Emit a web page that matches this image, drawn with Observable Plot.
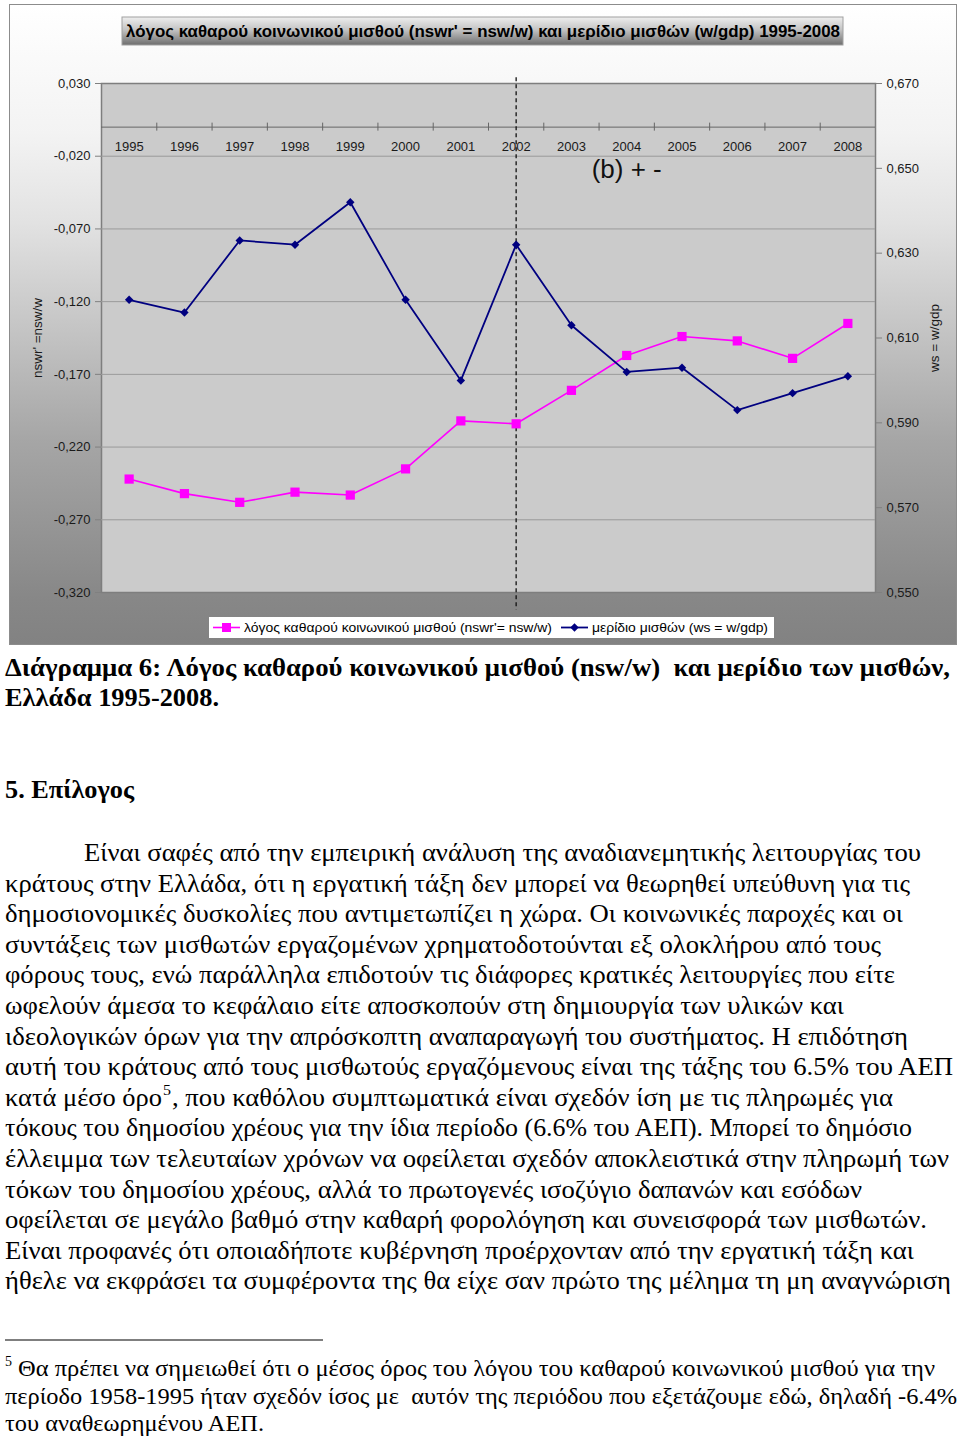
<!DOCTYPE html>
<html><head><meta charset="utf-8">
<script src="https://cdn.jsdelivr.net/npm/d3@7"></script>
<script src="https://cdn.jsdelivr.net/npm/@observablehq/plot@0.6"></script>
<style>
html,body{margin:0;padding:0;background:#fff;}
#page{position:relative;width:960px;height:1438px;overflow:hidden;background:#fff;}
#chartbg{position:absolute;left:9px;top:4px;width:946px;height:639px;border:1px solid #8c8c8c;
  background:linear-gradient(to bottom,#ffffff 0%,#f3f3f3 20%,#e2e2e2 34%,#a6a6a6 68%,#878787 93%,#828282 100%);}
#plot{position:absolute;left:0;top:0;}
#overlay{position:absolute;left:0;top:0;}
#overlay text{white-space:pre;}
</style></head>
<body>
<div id="page"><div id="chartbg"></div><div id="plot"></div><svg id="overlay" width="960" height="1438"></svg></div>
<script>
// ---------- data ----------
const years = [1995,1996,1997,1998,1999,2000,2001,2002,2003,2004,2005,2006,2007,2008];
const nswr = [-0.242,-0.252,-0.258,-0.251,-0.253,-0.235,-0.202,-0.204,-0.181,-0.157,-0.144,-0.147,-0.159,-0.135];
const ws   = [0.619,0.616,0.633,0.632,0.642,0.619,0.600,0.632,0.613,0.602,0.603,0.593,0.597,0.601];
const leftTicks  = [0.030,-0.020,-0.070,-0.120,-0.170,-0.220,-0.270,-0.320];
const rightTicks = [0.670,0.650,0.630,0.610,0.590,0.570,0.550];
const leftDomain  = [-0.320, 0.030];
const rightDomain = [0.550, 0.670];
const breakYear = 2002;
const breakSpan = [0.034, -0.332];
const annotation = [{year: 2004, value: -0.0295, text: "(b) + -"}];
const leftLabel = "nswr' =nsw/w";
const rightLabel = "ws = w/gdp";
const chartTitle = "λόγος καθαρού κοινωνικού μισθού (nswr' = nsw/w) και μερίδιο μισθών (w/gdp) 1995-2008";
const legendLabels = ["λόγος καθαρού κοινωνικού μισθού (nswr'= nsw/w)", "μερίδιο μισθών (ws = w/gdp)"];

// ---------- chart ----------
const toLeft = d3.scaleLinear().domain(rightDomain).range(leftDomain);
const fmt = d => d3.format(".3f")(d).replace(".", ",").replace("\u2212", "-");
const data = years.map((year, i) => ({year, nswr: nswr[i], ws: ws[i], wsL: toLeft(ws[i])}));
const boundaries = years.slice(1).map(y => y - 0.5);
const grid = leftTicks.slice(1, -1);

const chart = Plot.plot({
  width: 960, height: 650,
  marginLeft: 101, marginRight: 85, marginTop: 83, marginBottom: 58,
  x: {type: "linear", domain: [d3.min(years) - 0.5, d3.max(years) + 0.5], axis: null},
  y: {domain: leftDomain, axis: null, label: null},
  style: {background: "transparent", fontFamily: "'Liberation Sans', Arial, sans-serif", fontSize: "13px", overflow: "visible"},
  marks: [
    Plot.frame({fill: "#cbcbcb", stroke: "#7e7e7e", strokeWidth: 1.5}),
    Plot.ruleY(grid, {stroke: "#9a9a9a", strokeWidth: 1}),
    Plot.ruleY([0], {stroke: "#666", strokeWidth: 1}),
    Plot.ruleX(boundaries, {x: d => d, y1: 0, y2: 0, insetTop: -4, insetBottom: -4, stroke: "#666"}),
    Plot.text(years, {x: d => d, y: 0, dy: 20, text: d => String(d), fill: "#1a1a1a", fontSize: 13}),
    Plot.axisY(leftTicks, {anchor: "left", tickSize: 6, tickPadding: 5, tickFormat: fmt, stroke: "#808080", fill: "#1a1a1a", fontSize: 13, label: null}),
    Plot.axisY(rightTicks.map(toLeft), {anchor: "right", tickSize: 6, tickPadding: 5, tickFormat: d => fmt(toLeft.invert(d)), stroke: "#808080", fill: "#1a1a1a", fontSize: 13, label: null}),
    Plot.text([leftLabel], {frameAnchor: "left", textAnchor: "middle", dx: -64, rotate: -90, text: d => d, fontSize: 13.5, fill: "#1a1a1a"}),
    Plot.text([rightLabel], {frameAnchor: "right", textAnchor: "middle", dx: 59, rotate: -90, text: d => d, fontSize: 13.5, fill: "#1a1a1a"}),
    Plot.ruleX([breakYear], {x: d => d, y1: breakSpan[0], y2: breakSpan[1], stroke: "#111", strokeWidth: 1.3, strokeDasharray: "4,3"}),
    Plot.text(annotation, {x: "year", y: "value", text: "text", fontSize: 26, fill: "#111"}),
    Plot.line(data, {x: "year", y: "nswr", stroke: "#ff00ff", strokeWidth: 1.6}),
    Plot.dot(data, {x: "year", y: "nswr", symbol: "square", r: 5.2, fill: "#ff00ff"}),
    Plot.line(data, {x: "year", y: "wsL", stroke: "#000080", strokeWidth: 1.8}),
    Plot.dot(data, {x: "year", y: "wsL", symbol: "diamond2", r: 3.8, fill: "#000080"})
  ]
});
document.getElementById("plot").appendChild(chart);

// ---------- overlay: title, legend, text ----------
const ov = d3.select("#overlay");
const defs = ov.append("defs");
const tg = defs.append("linearGradient").attr("id", "tg").attr("x1", 0).attr("y1", 0).attr("x2", 0).attr("y2", 1);
[["0%", "#eeeeee"], ["45%", "#c4c4c4"], ["100%", "#6e6e6e"]].forEach(([o, c]) => tg.append("stop").attr("offset", o).attr("stop-color", c));

function txt(s, x, y, len, size, family, weight) {
  const t = ov.append("text").attr("x", x).attr("y", y)
    .attr("font-family", family).attr("font-size", size).attr("font-weight", weight || "normal")
    .attr("fill", "#000").text(s);
  if (len) t.attr("textLength", len).attr("lengthAdjust", "spacingAndGlyphs");
  return t;
}
const SANS = "'Liberation Sans', Arial, sans-serif";
const SERIF = "'Liberation Serif', 'Times New Roman', serif";

ov.append("rect").attr("x", 122).attr("y", 17).attr("width", 721).attr("height", 28).attr("fill", "url(#tg)").attr("stroke", "#a0a0a0");
txt(chartTitle, 126, 37, 714, 16.5, SANS, "bold");

// legend
ov.append("rect").attr("x", 209).attr("y", 617).attr("width", 565).attr("height", 21).attr("fill", "#fff");
ov.append("line").attr("x1", 213).attr("x2", 240).attr("y1", 627.5).attr("y2", 627.5).attr("stroke", "#ff00ff").attr("stroke-width", 1.6);
ov.append("rect").attr("x", 222).attr("y", 623).attr("width", 9).attr("height", 9).attr("fill", "#ff00ff");
txt(legendLabels[0], 244, 632, 308, 13, SANS);
ov.append("line").attr("x1", 561).attr("x2", 588).attr("y1", 627.5).attr("y2", 627.5).attr("stroke", "#000080").attr("stroke-width", 1.8);
ov.append("path").attr("d", "M574.5,623.3L578.7,627.5L574.5,631.7L570.3,627.5Z").attr("fill", "#000080");
txt(legendLabels[1], 592, 632, 176, 13, SANS);

// caption
txt("Διάγραμμα 6: Λόγος καθαρού κοινωνικού μισθού (nsw/w)  και μερίδιο των μισθών,", 5, 676, 945, 25, SERIF, "bold");
txt("Ελλάδα 1995-2008.", 5, 706, 214, 25, SERIF, "bold");
txt("5. Επίλογος", 5, 798, 129, 25, SERIF, "bold");

const para = [
  ["Είναι σαφές από την εμπειρική ανάλυση της αναδιανεμητικής λειτουργίας του", 84, 921],
  ["κράτους στην Ελλάδα, ότι η εργατική τάξη δεν μπορεί να θεωρηθεί υπεύθυνη για τις", 5, 910],
  ["δημοσιονομικές δυσκολίες που αντιμετωπίζει η χώρα. Οι κοινωνικές παροχές και οι", 5, 903],
  ["συντάξεις των μισθωτών εργαζομένων χρηματοδοτούνται εξ ολοκλήρου από τους", 5, 881],
  ["φόρους τους, ενώ παράλληλα επιδοτούν τις διάφορες κρατικές λειτουργίες που είτε", 5, 895],
  ["ωφελούν άμεσα το κεφάλαιο είτε αποσκοπούν στη δημιουργία των υλικών και", 5, 844],
  ["ιδεολογικών όρων για την απρόσκοπτη αναπαραγωγή του συστήματος. Η επιδότηση", 5, 908],
  ["αυτή του κράτους από τους μισθωτούς εργαζόμενους είναι της τάξης του 6.5% του ΑΕΠ", 5, 953],
  null,
  ["τόκους του δημοσίου χρέους για την ίδια περίοδο (6.6% του ΑΕΠ). Μπορεί το δημόσιο", 5, 912],
  ["έλλειμμα των τελευταίων χρόνων να οφείλεται σχεδόν αποκλειστικά στην πληρωμή των", 5, 949],
  ["τόκων του δημοσίου χρέους, αλλά το πρωτογενές ισοζύγιο δαπανών και εσόδων", 5, 862],
  ["οφείλεται σε μεγάλο βαθμό στην καθαρή φορολόγηση και συνεισφορά των μισθωτών.", 5, 927],
  ["Είναι προφανές ότι οποιαδήποτε κυβέρνηση προέρχονταν από την εργατική τάξη και", 5, 914],
  ["ήθελε να εκφράσει τα συμφέροντα της θα είχε σαν πρώτο της μέλημα τη μη αναγνώριση", 5, 951]
];
para.forEach((p, i) => {
  const y = 861 + 30.6 * i;
  if (p) txt(p[0], p[1], y, p[2] - p[1], 25, SERIF);
  else {
    txt("κατά μέσο όρο", 5, y, 157, 25, SERIF);
    txt("5", 163, y - 11, 8, 15, SERIF);
    txt(", που καθόλου συμπτωματικά είναι σχεδόν ίση με τις πληρωμές για", 172, y, 721, 25, SERIF);
  }
});

// footnote
ov.append("line").attr("x1", 5).attr("x2", 323).attr("y1", 1340).attr("y2", 1340).attr("stroke", "#000").attr("stroke-width", 1.2);
txt("5", 5, 1366, 7, 14, SERIF);
txt("Θα πρέπει να σημειωθεί ότι ο μέσος όρος του λόγου του καθαρού κοινωνικού μισθού για την", 18, 1376, 917, 22.5, SERIF);
txt("περίοδο 1958-1995 ήταν σχεδόν ίσος με  αυτόν της περιόδου που εξετάζουμε εδώ, δηλαδή -6.4%", 5, 1404, 952, 22.5, SERIF);
txt("του αναθεωρημένου ΑΕΠ.", 5, 1431, 259, 22.5, SERIF);
</script>
</body></html>
